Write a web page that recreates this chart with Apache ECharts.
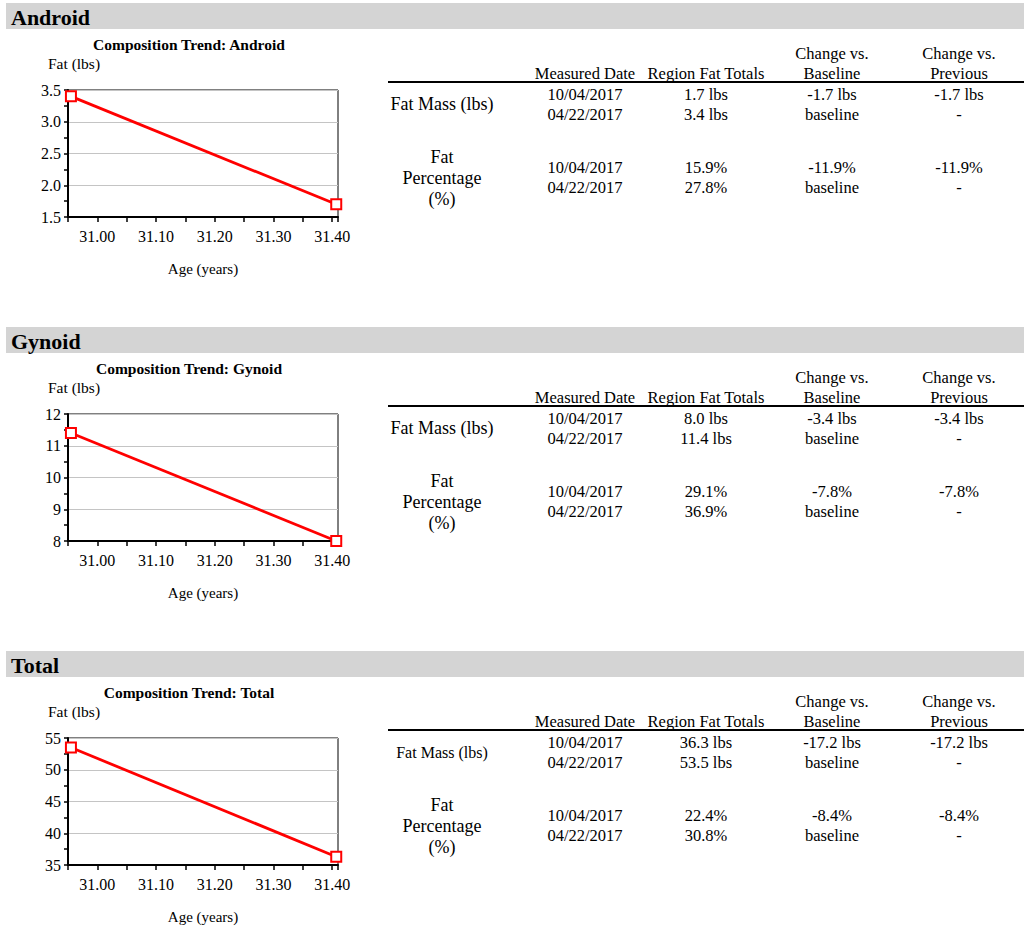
<!DOCTYPE html>
<html><head><meta charset="utf-8">
<script src="https://cdn.jsdelivr.net/npm/echarts@6/dist/echarts.min.js"></script>
<style>html,body{margin:0;padding:0;background:#fff}#c{width:1024px;height:932px}</style>
</head><body><div id="c"></div>
<script>
// ---- data ----
const regions = ['Android', 'Gynoid', 'Total'];
const ages = [30.955, 31.407];            // age (years) at 04/22/2017 (baseline) and 10/04/2017
const androidFat = [3.4, 1.7];
const gynoidFat = [11.4, 8.0];
const totalFat = [53.5, 36.3];
const fatSeries = [androidFat, gynoidFat, totalFat];
const yMin = [1.5, 8, 35];
const yMax = [3.5, 12, 55];
const yStep = [0.5, 1, 5];
const yDecimals = [1, 0, 0];
const xMin = 30.95, xMax = 31.41, xStep = 0.05;
const colHeaders = ['Measured Date', 'Region Fat Totals', 'Change vs.\nBaseline', 'Change vs.\nPrevious'];
const dates = ['10/04/2017', '04/22/2017'];
const massTotals = [['1.7 lbs', '3.4 lbs'], ['8.0 lbs', '11.4 lbs'], ['36.3 lbs', '53.5 lbs']];
const massVsBaseline = [['-1.7 lbs', 'baseline'], ['-3.4 lbs', 'baseline'], ['-17.2 lbs', 'baseline']];
const massVsPrevious = [['-1.7 lbs', '-'], ['-3.4 lbs', '-'], ['-17.2 lbs', '-']];
const pctTotals = [['15.9%', '27.8%'], ['29.1%', '36.9%'], ['22.4%', '30.8%']];
const pctVsBaseline = [['-11.9%', 'baseline'], ['-7.8%', 'baseline'], ['-8.4%', 'baseline']];
const pctVsPrevious = [['-11.9%', '-'], ['-7.8%', '-'], ['-8.4%', '-']];

// ---- layout ----
const FF = '"Liberation Serif", "Times New Roman", serif';
const SECTION = 324;
const colX = [585, 706, 832, 959];
const rowLabelX = 442;
const massLabelSize = [18, 18, 16];

function txt(text, x, y, font, align, color) {
  return {
    type: 'text', silent: true,
    style: { text: text, x: x, y: y, font: font, fill: color || '#000',
      align: align || 'center', verticalAlign: 'middle',
      textAlign: align || 'center', textVerticalAlign: 'middle' }
  };
}

const graphic = [];
const grid = [], xAxis = [], yAxis = [], series = [];

regions.forEach((r, i) => {
  const dy = SECTION * i;
  graphic.push({ type: 'rect', silent: true, shape: { x: 6, y: 3 + dy, width: 1018, height: 26 }, style: { fill: '#d4d4d4' } });
  graphic.push(txt(r, 11, 17 + dy, 'bold 22px ' + FF, 'left'));
  graphic.push(txt('Composition Trend: ' + r, 189, 44 + dy, 'bold 15.5px ' + FF, 'center'));
  // table
  graphic.push({ type: 'rect', silent: true, shape: { x: 388, y: 81 + dy, width: 636, height: 2 }, style: { fill: '#000' } });
  colHeaders.forEach((h, c) => {
    const lines = h.split('\n');
    lines.forEach((ln, k) => {
      const y = 73 + dy - (lines.length - 1 - k) * 20;
      graphic.push(txt(ln, colX[c], y, '16.5px ' + FF, 'center'));
    });
  });
  graphic.push(txt('Fat Mass (lbs)', rowLabelX, 104 + dy, massLabelSize[i] + 'px ' + FF, 'center'));
  graphic.push(txt('Fat', rowLabelX, 157 + dy, '18px ' + FF, 'center'));
  graphic.push(txt('Percentage', rowLabelX, 178 + dy, '18px ' + FF, 'center'));
  graphic.push(txt('(%)', rowLabelX, 199 + dy, '18px ' + FF, 'center'));
  const massCols = [dates, massTotals[i], massVsBaseline[i], massVsPrevious[i]];
  const pctCols = [dates, pctTotals[i], pctVsBaseline[i], pctVsPrevious[i]];
  massCols.forEach((col, c) => col.forEach((v, k) => graphic.push(txt(v, colX[c], 94 + 20 * k + dy, '16.5px ' + FF, 'center'))));
  pctCols.forEach((col, c) => col.forEach((v, k) => graphic.push(txt(v, colX[c], 167 + 20 * k + dy, '16.5px ' + FF, 'center'))));

  // chart
  grid.push({ left: 68, top: 90 + dy, width: 270, height: 127, show: true, borderColor: '#000', borderWidth: 1, backgroundColor: 'transparent' });
  xAxis.push({
    type: 'value', gridIndex: i, min: xMin, max: xMax, interval: xStep,
    name: 'Age (years)', nameLocation: 'middle', nameGap: 44,
    nameTextStyle: { color: '#000', fontFamily: FF, fontSize: 15 },
    axisLine: { show: true, onZero: false, lineStyle: { color: '#000', width: 2 } },
    axisTick: { show: true, length: 5, lineStyle: { color: '#000', width: 1.5 } },
    axisLabel: {
      color: '#000', fontFamily: FF, fontSize: 16, margin: 11,
      formatter: v => (Math.abs(v * 10 - Math.round(v * 10)) < 1e-6) ? v.toFixed(2) : ''
    },
    splitLine: { show: false }
  });
  yAxis.push({
    type: 'value', gridIndex: i, min: yMin[i], max: yMax[i], interval: yStep[i],
    name: 'Fat (lbs)', nameLocation: 'end', nameGap: 19,
    nameTextStyle: { color: '#000', fontFamily: FF, fontSize: 15.5, align: 'center', padding: [0, 0, 0, 12] },
    axisLine: { show: true, onZero: false, lineStyle: { color: '#000', width: 2 } },
    axisTick: { show: true, length: 4, lineStyle: { color: '#000', width: 1.5 } },
    minorTick: { show: true, splitNumber: 2, length: 4, lineStyle: { color: '#000', width: 1.5 } },
    axisLabel: { color: '#000', fontFamily: FF, fontSize: 16, margin: 7, formatter: v => v.toFixed(yDecimals[i]) },
    splitLine: { show: true, lineStyle: { color: '#c4c4c4', width: 1 } }
  });
  series.push({
    type: 'line', xAxisIndex: i, yAxisIndex: i,
    data: ages.map((a, k) => [a, fatSeries[i][k]]),
    symbol: 'emptyRect', symbolSize: 10,
    lineStyle: { color: '#ff0000', width: 2.8 },
    itemStyle: { color: '#ff0000', borderColor: '#ff0000', borderWidth: 1.5 },
    animation: false, z: 5
  });
});

const chart = echarts.init(document.getElementById('c'), null, { renderer: 'svg', width: 1024, height: 932 });
chart.setOption({
  backgroundColor: '#fff',
  animation: false,
  textStyle: { fontFamily: FF },
  grid: grid, xAxis: xAxis, yAxis: yAxis, series: series,
  graphic: graphic
});
</script>
</body></html>
